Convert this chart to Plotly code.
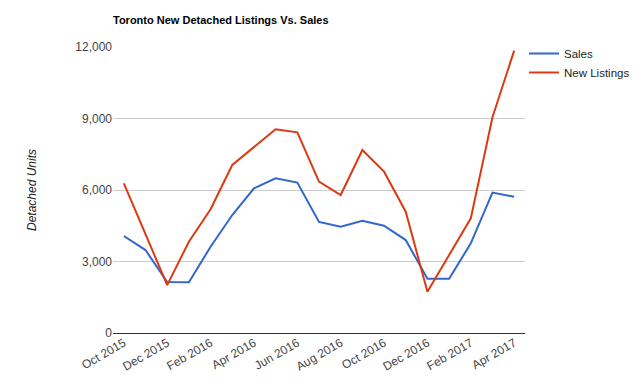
import plotly.graph_objects as go

months = ["Oct 2015", "Nov 2015", "Dec 2015", "Jan 2016", "Feb 2016", "Mar 2016",
          "Apr 2016", "May 2016", "Jun 2016", "Jul 2016", "Aug 2016", "Sep 2016",
          "Oct 2016", "Nov 2016", "Dec 2016", "Jan 2017", "Feb 2017", "Mar 2017",
          "Apr 2017"]
sales = [4070, 3480, 2140, 2130, 3620, 4950, 6070, 6490, 6310, 4660, 4460, 4710,
         4500, 3900, 2280, 2280, 3760, 5890, 5720]
new_listings = [6280, 4170, 2010, 3830, 5190, 7050, 7820, 8550, 8420, 6350, 5790,
                7680, 6770, 5090, 1730, 3270, 4810, 9050, 11850]
tick_labels = months[::2]
y_ticks = [0, 3000, 6000, 9000, 12000]
y_tick_text = ["0", "3,000", "6,000", "9,000", "12,000"]

fig = go.Figure()
fig.add_trace(go.Scatter(x=months, y=sales, mode="lines", name="Sales",
                         line=dict(color="#3366cc", width=2)))
fig.add_trace(go.Scatter(x=months, y=new_listings, mode="lines", name="New Listings",
                         line=dict(color="#dc3912", width=2)))

W, H = 640, 386
fig.update_layout(
    width=W, height=H,
    margin=dict(l=105, r=123, t=39, b=61, autoexpand=False),
    paper_bgcolor="white", plot_bgcolor="white",
    font=dict(family="Arial, Liberation Sans, sans-serif", size=12, color="#444"),
    title=dict(text="<b>Toronto New Detached Listings Vs. Sales</b>",
               x=105/W, xanchor="left", y=1 - 12/H, yanchor="middle",
               font=dict(size=11, color="#000")),
    legend=dict(xref="container", yref="container", x=516/W, y=1 - 31/H,
                xanchor="left", yanchor="top",
                font=dict(size=11.5, color="#222"), itemwidth=30,
                tracegroupgap=0, bgcolor="rgba(0,0,0,0)"),
    showlegend=True,
)
fig.update_xaxes(type="category", range=[-0.5, 18.5], tickmode="array",
                 tickvals=tick_labels, ticktext=tick_labels, tickangle=-30,
                 showgrid=False, showline=False, ticks="", zeroline=False,
                 tickfont=dict(size=12, color="#444"))
fig.update_yaxes(range=[0, 12000], tickmode="array", tickvals=y_ticks,
                 ticktext=y_tick_text, showgrid=True, gridcolor="#cccccc",
                 gridwidth=1, zeroline=True, zerolinecolor="#333333",
                 zerolinewidth=1, showline=False, ticks="",
                 title=dict(text="<i>Detached Units</i>", standoff=36,
                            font=dict(size=12, color="#222")),
                 tickfont=dict(size=12, color="#444"))

fig.write_html("out.html")
